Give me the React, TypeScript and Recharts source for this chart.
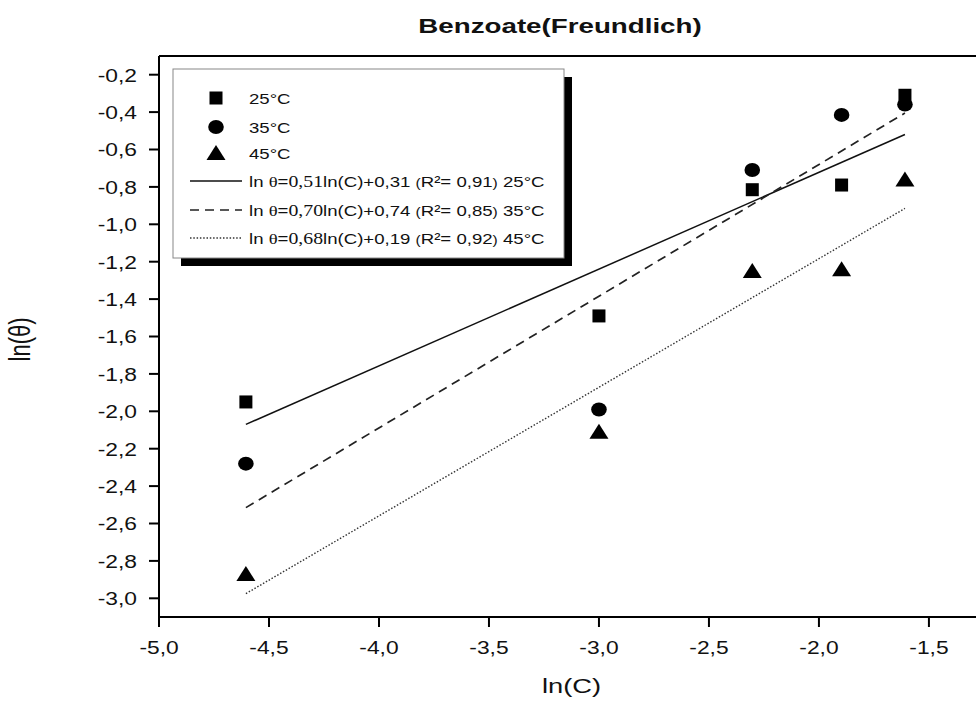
import { Legend, ReferenceLine, Scatter, ScatterChart, XAxis, YAxis } from "recharts";

// ln(C) for the five concentrations
const lnC = [-4.605, -3.0, -2.303, -1.897, -1.609];

// ln(theta)
const theta25 = [-1.95, -1.49, -0.815, -0.79, -0.31];
const theta35 = [-2.28, -1.99, -0.71, -0.415, -0.36];
const theta45 = [-2.87, -2.11, -1.25, -1.24, -0.76];

// fitted lines, end points as drawn
const fitX = [-4.605, -1.609];
const fit25 = [-2.07, -0.52];
const fit35 = [-2.515, -0.405];
const fit45 = [-2.975, -0.915];

const seriesLabels = ["25°C", "35°C", "45°C"];
const slopes = ["0,51", "0,70", "0,68"];
const intercepts = ["0,31", "0,74", "0,19"];
const rSquared = ["0,91", "0,85", "0,92"];

const xTicks = [-5, -4.5, -4, -3.5, -3, -2.5, -2, -1.5];
const yTicks = [-3.0, -2.8, -2.6, -2.4, -2.2, -2.0, -1.8, -1.6, -1.4, -1.2, -1.0, -0.8, -0.6, -0.4, -0.2];

const FONT = "'Liberation Sans', Arial, sans-serif";
const SERIF = "'Liberation Serif', 'Times New Roman', serif";
const SX = 1.2; // the source figure is stretched sideways

const toPoints = (xs: number[], ys: number[]) => xs.map((x, i) => ({ x, y: ys[i] }));
const fmt = (v: number) => v.toFixed(1).replace(".", ",");

const Square = (p: any) => <rect x={p.cx - 6.5} y={p.cy - 6.5} width={13} height={13} fill="#000" />;
const Dot = (p: any) => <ellipse cx={p.cx} cy={p.cy} rx={7.8} ry={7} fill="#000" />;
const Tri = (p: any) => (
  <polygon points={`${p.cx},${p.cy - 8} ${p.cx + 9.5},${p.cy + 7} ${p.cx - 9.5},${p.cy + 7}`} fill="#000" />
);
const NoShape = () => <g />;

const fitStyles = [
  { stroke: "#111", strokeWidth: 1.5 },
  { stroke: "#222", strokeWidth: 1.7, strokeDasharray: "9 6" },
  { stroke: "#333", strokeWidth: 1.4, strokeDasharray: "1.5 1.8" },
];

function XTick({ x, y, payload }: any) {
  return (
    <g transform={`translate(${x},${y}) scale(${SX},1)`}>
      <text x={0} y={0} dy={13.5} textAnchor="middle" fontSize={19} fontFamily={FONT} fill="#111">
        {fmt(payload.value)}
      </text>
    </g>
  );
}

function YTick({ x, y, payload }: any) {
  return (
    <g transform={`translate(${x},${y}) scale(${SX},1)`}>
      <text x={0} y={0} dy={6.8} textAnchor="end" fontSize={19} fontFamily={FONT} fill="#111">
        {fmt(payload.value)}
      </text>
    </g>
  );
}

function LegendBox() {
  const markers = [Square, Dot, Tri];
  const rowY = [30, 59, 85, 113, 142, 170];
  return (
    <svg width={405} height={205} style={{ display: "block" }}>
      <rect x={9} y={9} width={391} height={189} fill="#000" />
      <rect x={1} y={1} width={391} height={189} fill="#fff" stroke="#888" strokeWidth={1} />
      {seriesLabels.map((label, i) => {
        const M = markers[i];
        return (
          <g key={label}>
            <M cx={44} cy={rowY[i]} />
            <g transform={`translate(77,${rowY[i] + 5.5}) scale(1.2,1)`}>
              <text fontSize={15.5} fontFamily={FONT} fill="#111">{label}</text>
            </g>
          </g>
        );
      })}
      {seriesLabels.map((label, i) => {
        const y = rowY[i + 3];
        return (
          <g key={"fit" + label}>
            <line x1={18} x2={70} y1={y} y2={y} {...fitStyles[i]} />
            <g transform={`translate(77,${y + 5.5}) scale(1.2,1)`}>
              <text fontSize={15.5} fontFamily={FONT} fill="#111">
                <tspan>ln </tspan>
                <tspan fontFamily={SERIF}>θ</tspan>
                <tspan>=</tspan>
                <tspan fontFamily={SERIF} fontSize={16.5}>{slopes[i]}</tspan>
                <tspan>ln(C)+{intercepts[i]} </tspan>
                <tspan fontSize={13}>(</tspan>
                <tspan>R²= {rSquared[i]}</tspan>
                <tspan fontSize={13}>)</tspan>
                <tspan> {label}</tspan>
              </text>
            </g>
          </g>
        );
      })}
    </svg>
  );
}

export default function App() {
  const series = [theta25, theta35, theta45];
  const fits = [fit25, fit35, fit45];
  const shapes = [Square, Dot, Tri];

  return (
    <div style={{ position: "absolute", left: 0, top: 0, width: 976, height: 704, overflow: "hidden", background: "#fff" }}>
      <div
        style={{
          position: "absolute",
          left: 260,
          top: 14,
          width: 600,
          textAlign: "center",
          fontFamily: FONT,
          fontWeight: "bold",
          fontSize: 21,
          lineHeight: "23px",
          color: "#111",
          transform: "scaleX(1.32)",
        }}
      >
        Benzoate(Freundlich)
      </div>
      <ScatterChart width={976} height={704} margin={{ top: 56, right: 0, bottom: 0, left: 0 }}>
        <XAxis
          type="number"
          dataKey="x"
          domain={[-5, -1.286]}
          allowDataOverflow
          ticks={xTicks}
          interval={0}
          height={87}
          tickSize={10}
          tickMargin={13}
          axisLine={{ stroke: "#000", strokeWidth: 2 }}
          tickLine={{ stroke: "#000", strokeWidth: 2 }}
          tick={(p: any) => <XTick {...p} />}
          label={{
            content: ({ viewBox }: any) => (
              <g transform={`translate(${viewBox.x + viewBox.width / 2 + 4},${viewBox.y + 76}) scale(1.3,1)`}>
                <text textAnchor="middle" fontSize={21} fontFamily={FONT} fill="#111">
                  ln(C)
                </text>
              </g>
            ),
          }}
        />
        <YAxis
          type="number"
          dataKey="y"
          domain={[-3.1, -0.1]}
          allowDataOverflow
          ticks={yTicks}
          interval={0}
          width={159}
          tickSize={10}
          tickMargin={12}
          axisLine={{ stroke: "#000", strokeWidth: 2 }}
          tickLine={{ stroke: "#000", strokeWidth: 2 }}
          tick={(p: any) => <YTick {...p} />}
          label={{
            content: ({ viewBox }: any) => (
              <g transform={`translate(30,${viewBox.y + viewBox.height / 2 + 3}) scale(1.3,1) rotate(-90)`}>
                <text textAnchor="middle" fontSize={22} fontFamily={FONT} fill="#111">
                  ln(θ)
                </text>
              </g>
            ),
          }}
        />
        <ReferenceLine y={-0.1} stroke="#000" strokeWidth={2} ifOverflow="visible" />
        {fits.map((f, i) => (
          <Scatter
            key={"fit" + i}
            data={toPoints(fitX, f)}
            line={fitStyles[i]}
            shape={NoShape}
            isAnimationActive={false}
            legendType="none"
          />
        ))}
        {series.map((s, i) => (
          <Scatter
            key={seriesLabels[i]}
            name={seriesLabels[i]}
            data={toPoints(lnC, s)}
            shape={shapes[i]}
            isAnimationActive={false}
          />
        ))}
        <Legend
          layout="horizontal"
          verticalAlign="middle"
          align="center"
          wrapperStyle={{ left: 172, top: 68, width: 405, height: 205 }}
          content={() => <LegendBox />}
        />
      </ScatterChart>
    </div>
  );
}
